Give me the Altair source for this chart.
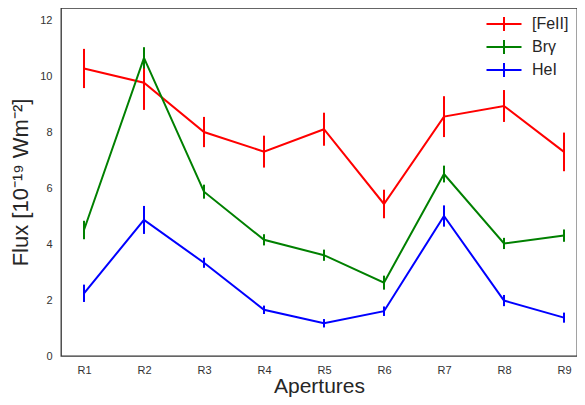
import altair as alt
import pandas as pd

apertures = [1, 2, 3, 4, 5, 6, 7, 8, 9]
series_names = ["[FeII]", "Brγ", "HeI"]
series_colors = ["#ff0000", "#008000", "#0000ff"]

feii = [10.27, 9.76, 8.0, 7.3, 8.1, 5.43, 8.55, 8.93, 7.29]
feii_err = [0.7, 0.97, 0.54, 0.57, 0.59, 0.51, 0.73, 0.57, 0.69]
brg = [4.5, 10.65, 5.87, 4.15, 3.6, 2.62, 6.5, 4.02, 4.3]
brg_err = [0.33, 0.38, 0.25, 0.2, 0.2, 0.25, 0.3, 0.2, 0.22]
hei = [2.24, 4.86, 3.33, 1.65, 1.17, 1.6, 5.0, 1.98, 1.37]
hei_err = [0.31, 0.5, 0.18, 0.15, 0.15, 0.17, 0.38, 0.2, 0.18]

rows = []
for name, vals, errs in zip(series_names, [feii, brg, hei], [feii_err, brg_err, hei_err]):
    for a, v, e in zip(apertures, vals, errs):
        rows.append({"ap": a, "flux": v, "lo": v - e, "hi": v + e, "series": name})
df = pd.DataFrame(rows)

font = "Liberation Sans"

x = alt.X("ap:Q",
          scale=alt.Scale(domain=[0.617, 9.217], nice=False, zero=False),
          axis=alt.Axis(values=apertures, labelExpr="'R' + datum.value",
                        title="Apertures", grid=False, ticks=False, domain=False,
                        labelFontSize=11, labelColor="#333333", labelPadding=8,
                        titleFontSize=21, titleFontWeight="normal", titleColor="#262626",
                        titleY=36.5, titleBaseline="alphabetic",
                        labelFont=font, titleFont=font))
y = alt.Y("flux:Q",
          scale=alt.Scale(domain=[0, 12.43], nice=False),
          axis=alt.Axis(values=[0, 2, 4, 6, 8, 10, 12], title="Flux [10⁻¹⁹ Wm⁻²]",
                        grid=False, ticks=False, domain=False,
                        labelFontSize=11, labelColor="#333333", labelPadding=9,
                        titleFontSize=22, titleFontWeight="normal", titleColor="#262626",
                        titlePadding=7, labelFont=font, titleFont=font))

color = alt.Color("series:N",
                  scale=alt.Scale(domain=series_names, range=series_colors),
                  sort=series_names,
                  legend=alt.Legend(title=None, orient="none", legendX=435, legendY=8,
                                    symbolType="M-2.5,0H2.5M0,-1V1", symbolSize=196,
                                    symbolStrokeWidth=2, symbolFillColor="transparent",
                                    labelFontSize=16, labelColor="#262626", labelFont=font,
                                    labelOffset=20, rowPadding=1, padding=0))

lines = alt.Chart(df).mark_line(strokeWidth=2).encode(x=x, y=y, color=color)
errs = alt.Chart(df).mark_rule(strokeWidth=2).encode(
    x="ap:Q", y="lo:Q", y2="hi:Q",
    color=alt.Color("series:N", scale=alt.Scale(domain=series_names, range=series_colors), legend=None))

chart = alt.layer(lines, errs).properties(
    width=516, height=348,
    padding={"left": 53, "top": 0, "right": 0, "bottom": 41},
    autosize=alt.AutoSizeParams(type="none"),
).configure(background="white").configure_view(stroke="#333333", strokeWidth=1.3)

chart.save("out.html", embed_options={"renderer": "svg", "actions": False})
